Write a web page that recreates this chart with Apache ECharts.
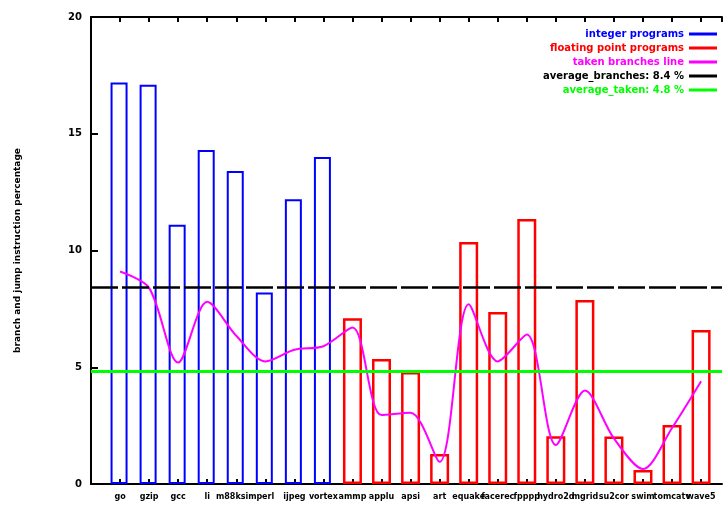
<!DOCTYPE html>
<html>
<head>
<meta charset="utf-8">
<script src="https://cdn.jsdelivr.net/npm/echarts@6/dist/echarts.min.js"></script>
<style>
  html, body { margin: 0; padding: 0; background: #fff; }
  #chart { width: 723px; height: 506px; }
</style>
</head>
<body>
<div id="chart"></div>
<script>
// Benchmark names (integer programs first, then floating point programs)
const intNames = ['go', 'gzip', 'gcc', 'li', 'm88ksim', 'perl', 'ijpeg', 'vortex'];
const fpNames = ['ammp', 'applu', 'apsi', 'art', 'equake', 'facerec', 'fpppp',
                 'hydro2d', 'mgrid', 'su2cor', 'swim', 'tomcatv', 'wave5'];

// Branch instruction percentage per benchmark (bars)
const intValues = [17.2, 17.1, 11.1, 14.3, 13.4, 8.2, 12.2, 14.0];
const fpValues = [7.1, 5.35, 4.8, 1.28, 10.36, 7.37, 11.35, 2.05, 7.88, 2.03, 0.6, 2.53, 6.6];

// Taken branch percentage per benchmark (smoothed line)
const takenValues = [9.1, 8.4, 5.2, 7.8, 6.35, 5.25, 5.75, 5.9, 6.7, 2.95, 3.05,
                     0.95, 7.7, 5.25, 6.4, 1.67, 4.0, 1.95, 0.64, 2.4, 4.4];

// Y axis tick labels
const yTicks = [0, 5, 10, 15, 20];

const names = intNames.concat(fpNames);
const allBars = intValues.concat(fpValues);
const mean = a => a.reduce((s, v) => s + v, 0) / a.length;
const avgBranches = mean(allBars);
const avgTaken = mean(takenValues);

const FONT = 'DejaVu Sans';
const chart = echarts.init(document.getElementById('chart'), null, { renderer: 'canvas' });

const isInt = v => Math.abs(v - Math.round(v)) < 1e-6;

chart.setOption({
  backgroundColor: '#fff',
  animation: false,
  grid: { left: 91, top: 17, right: 1, bottom: 22, containLabel: false },
  legend: {
    orient: 'vertical',
    right: 6,
    top: 29,
    padding: 0,
    align: 'right',
    icon: 'rect',
    itemWidth: 28,
    itemHeight: 3,
    itemGap: 4,
    textStyle: { fontFamily: FONT, fontWeight: 'bold', fontSize: 10 },
    data: [
      { name: 'integer programs', itemStyle: { color: '#0000ff', borderWidth: 0 }, textStyle: { color: '#0000ff' } },
      { name: 'floating point programs', itemStyle: { color: '#ff0000', borderWidth: 0 }, textStyle: { color: '#ff0000' } },
      { name: 'taken branches line', itemStyle: { color: '#ff00ff', borderWidth: 0 }, textStyle: { color: '#ff00ff' } },
      { name: 'average_branches: ' + avgBranches.toFixed(1) + ' %', itemStyle: { color: '#000000', borderWidth: 0 }, textStyle: { color: '#000000' } },
      { name: 'average_taken: ' + avgTaken.toFixed(1) + ' %', itemStyle: { color: '#00ff00', borderWidth: 0 }, textStyle: { color: '#00ff00' } }
    ]
  },
  xAxis: [
    {
      type: 'value',
      min: -1,
      max: 20.72,
      interval: 1,
      axisLine: { onZero: false, lineStyle: { color: '#000', width: 2 } },
      axisTick: { inside: true, length: 5, lineStyle: { color: '#000', width: 2 } },
      splitLine: { show: false },
      axisLabel: {
        margin: 9,
        fontFamily: FONT, fontWeight: 'bold', fontSize: 8, color: '#000',
        showMaxLabel: false,
        formatter: v => (isInt(v) && v >= 0 && v < names.length) ? names[Math.round(v)] : ''
      }
    },
    {
      type: 'value',
      position: 'top',
      min: -1,
      max: 20.72,
      interval: 1,
      axisLine: { show: true, onZero: false, lineStyle: { color: '#000', width: 2 } },
      axisTick: { inside: true, length: 5, lineStyle: { color: '#000', width: 2 } },
      splitLine: { show: false },
      axisLabel: { show: false }
    }
  ],
  yAxis: {
    type: 'value',
    min: yTicks[0],
    max: yTicks[yTicks.length - 1],
    interval: yTicks[1] - yTicks[0],
    name: 'branch and jump instruction percentage',
    nameLocation: 'middle',
    nameRotate: 90,
    nameGap: 69,
    nameTextStyle: { fontFamily: FONT, fontWeight: 'bold', fontSize: 9, color: '#000' },
    axisLine: { show: true, onZero: false, lineStyle: { color: '#000', width: 2 } },
    axisTick: { show: true, inside: true, length: 7, lineStyle: { color: '#000', width: 2 } },
    splitLine: { show: false },
    axisLabel: { margin: 9, fontFamily: FONT, fontWeight: 'bold', fontSize: 10, color: '#000' }
  },
  series: [
    {
      name: 'integer programs',
      type: 'bar',
      barWidth: 17,
      barGap: '-100%',
      itemStyle: { color: 'rgba(0,0,0,0)', borderColor: '#0000ff', borderWidth: 2 },
      data: intValues.map((v, i) => [i, v]),
      z: 2
    },
    {
      name: 'floating point programs',
      type: 'bar',
      barWidth: 19,
      barGap: '-100%',
      itemStyle: { color: 'rgba(0,0,0,0)', borderColor: '#ff0000', borderWidth: 2.5 },
      data: fpValues.map((v, i) => [intValues.length + i, v]),
      z: 2
    },
    {
      name: 'taken branches line',
      type: 'line',
      smooth: 0.3,
      showSymbol: false,
      color: '#ff00ff',
      lineStyle: { color: '#ff00ff', width: 2 },
      data: takenValues.map((v, i) => [i, v]),
      z: 4
    },
    {
      name: 'average_branches: ' + avgBranches.toFixed(1) + ' %',
      type: 'line',
      color: '#000000',
      data: [],
      markLine: {
        silent: true,
        symbol: 'none',
        label: { show: false },
        lineStyle: { color: '#000', width: 2.5, type: [27, 4] },
        data: [{ yAxis: avgBranches }]
      },
      z: 3
    },
    {
      name: 'average_taken: ' + avgTaken.toFixed(1) + ' %',
      type: 'line',
      color: '#00ff00',
      data: [],
      markLine: {
        silent: true,
        symbol: 'none',
        label: { show: false },
        lineStyle: { color: '#00ff00', width: 3, type: 'solid' },
        data: [{ yAxis: avgTaken }]
      },
      z: 3
    }
  ]
});
</script>
</body>
</html>
